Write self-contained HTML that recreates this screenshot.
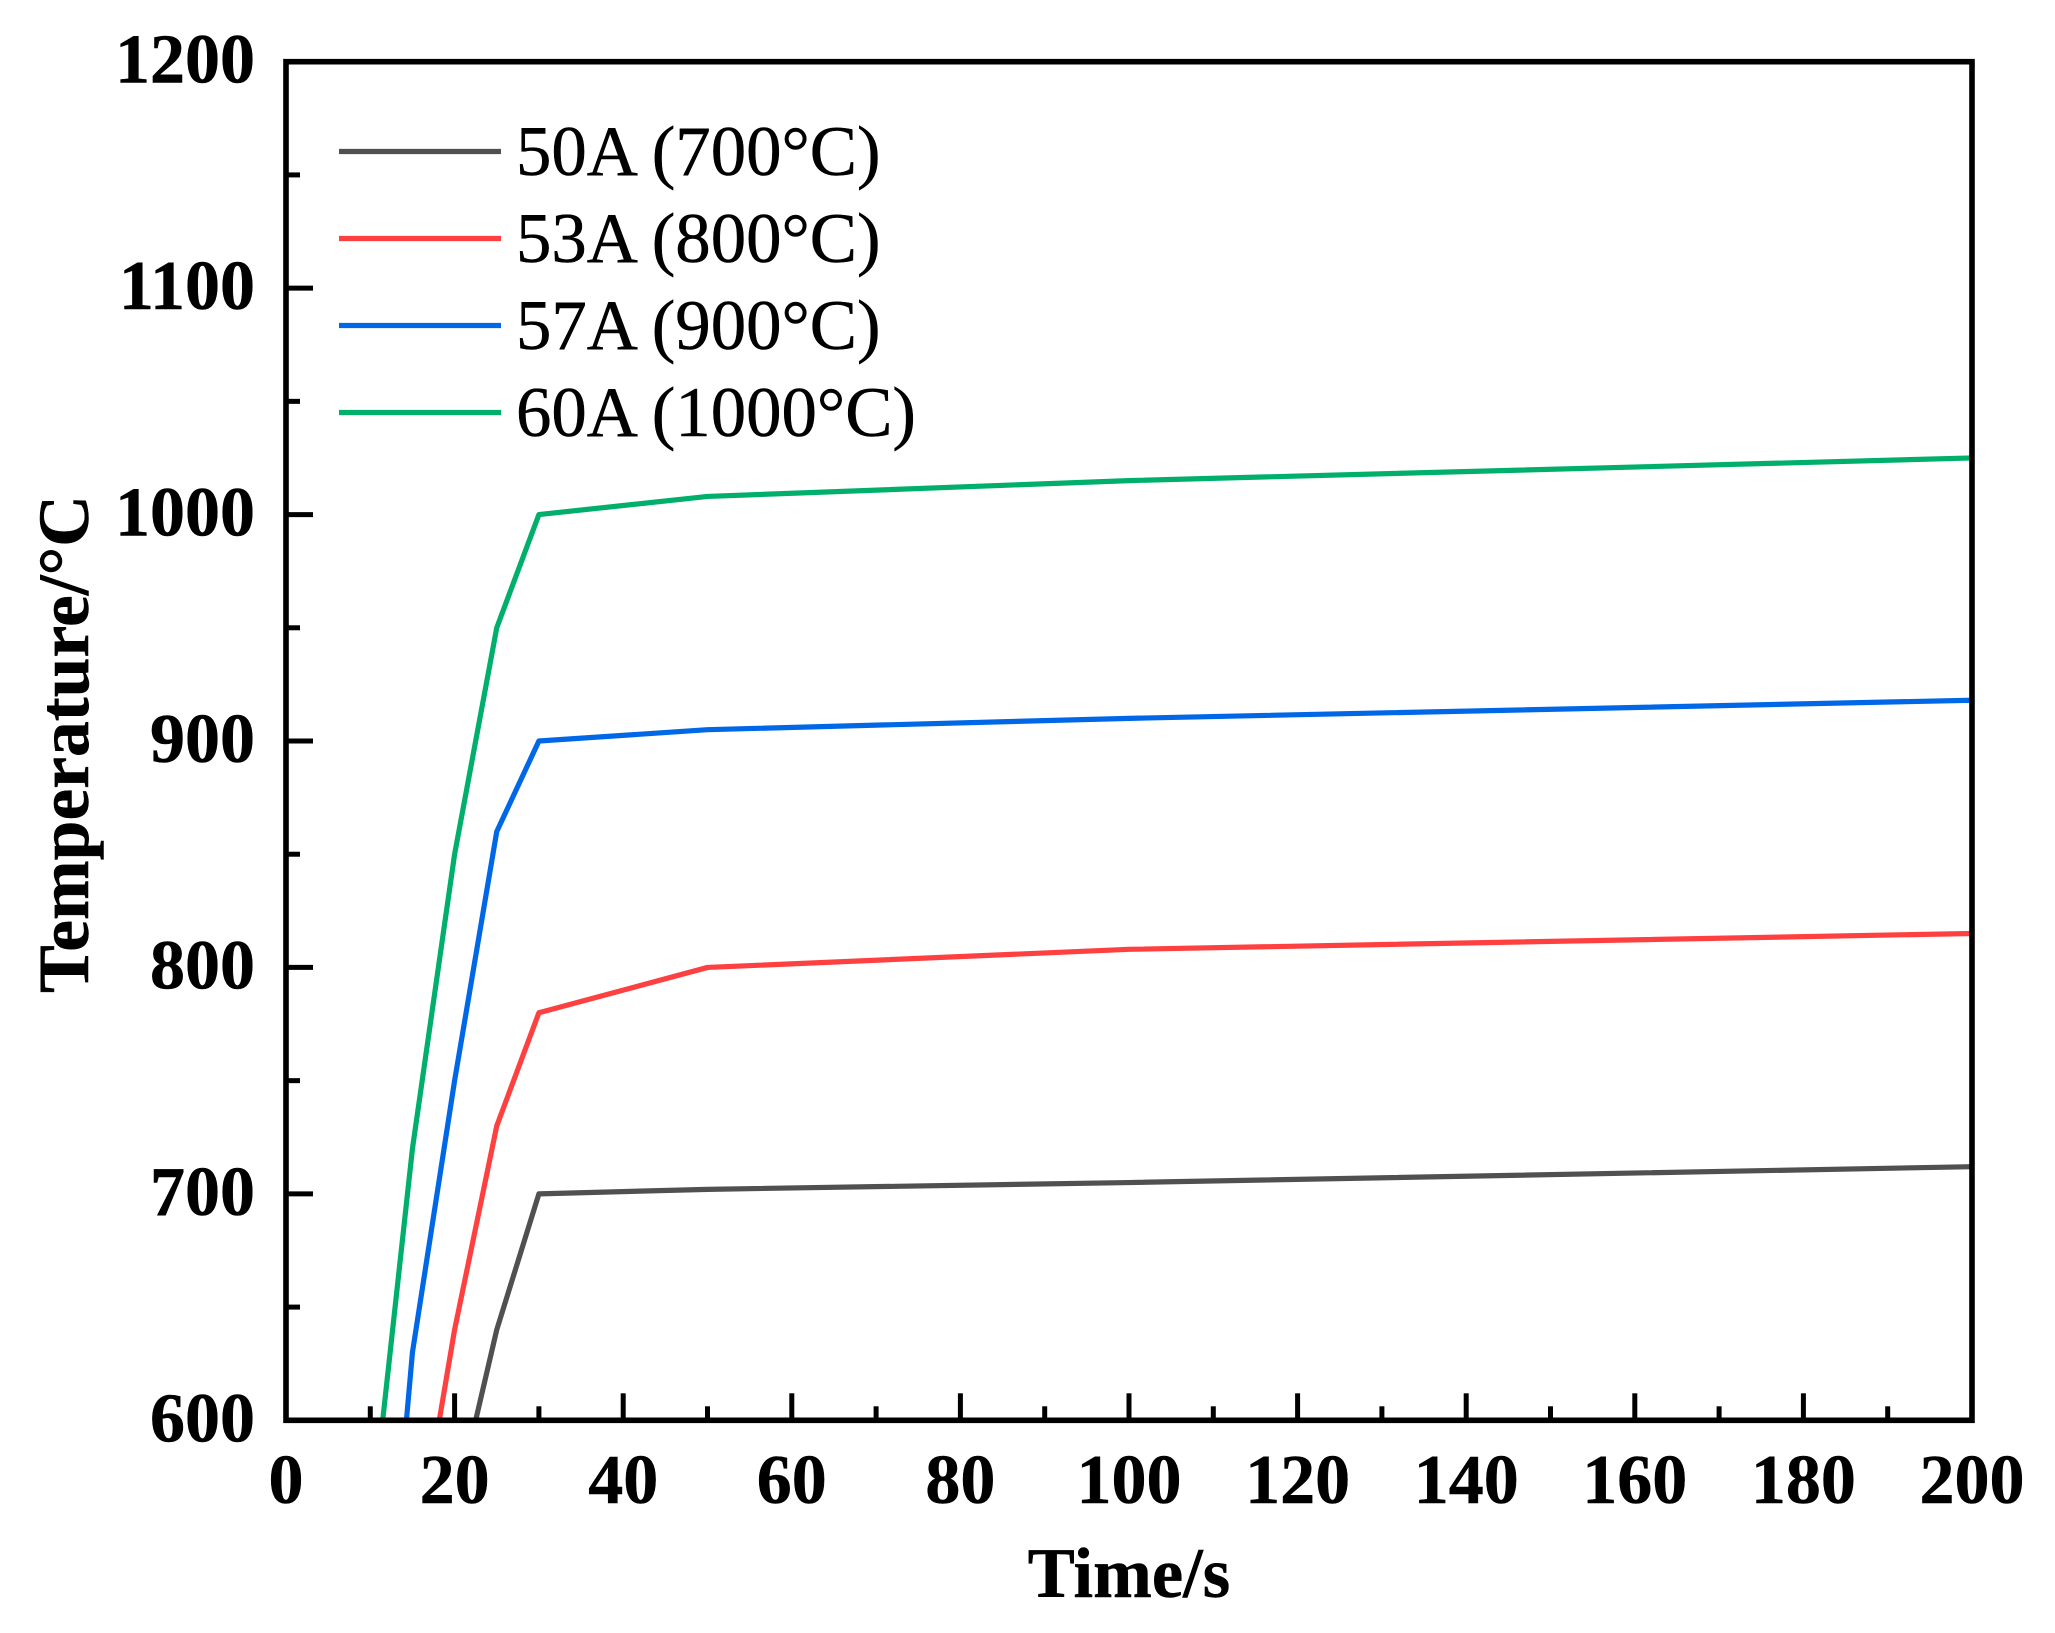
<!DOCTYPE html>
<html lang="en">
<head>
<meta charset="utf-8">
<title>Temperature vs Time</title>
<style>
html,body{margin:0;padding:0;background:#fff;width:2055px;height:1633px;overflow:hidden;}
#wrap{position:absolute;left:0;top:0;width:2055px;height:1633px;overflow:hidden;}
svg{display:block;overflow:hidden;}
text{font-family:"Liberation Serif",serif;fill:#000;stroke:#000;stroke-width:0.5px;}
</style>
</head>
<body>
<div id="wrap">
<svg id="chart" xmlns="http://www.w3.org/2000/svg" width="2055" height="1633" viewBox="0 0 2055 1633"></svg>
</div>
<script>
const xTicks = [0,20,40,60,80,100,120,140,160,180,200];
const xMinorTicks = [10,30,50,70,90,110,130,150,170,190];
const yTicks = [600,700,800,900,1000,1100,1200];
const yMinorTicks = [650,750,850,950,1050,1150];
const timeValues = [10,15,20,25,30,50,100,200];
const labels = ['50A (700°C)','53A (800°C)','57A (900°C)','60A (1000°C)'];
const colors = ['#505050','#ff4040','#0068e6','#00af6b'];
const temp50A = [480,530,560,640,700,702,705,712];
const temp53A = [430,530,640,730,780,800,808,815];
const temp57A = [420,630,750,860,900,905,910,918];
const temp60A = [550,720,850,950,1000,1008,1015,1025];
const seriesValues = [temp50A,temp53A,temp57A,temp60A];

const SVGNS = 'http://www.w3.org/2000/svg';
const svg = document.getElementById('chart');
const left = 286, right = 1972, top_ = 61.7, bottom = 1420.3;
const xMin = 0, xMax = 200, yMin = 600, yMax = 1200;
function xScale(v){ return left + (v - xMin) / (xMax - xMin) * (right - left); }
function yScale(v){ return bottom - (v - yMin) / (yMax - yMin) * (bottom - top_); }
function make(tag, attrs, parent){
  const el = document.createElementNS(SVGNS, tag);
  for (const k in attrs) el.setAttribute(k, attrs[k]);
  (parent || svg).appendChild(el);
  return el;
}

const defs = make('defs', {});
const clip = make('clipPath', {id:'plot-clip'}, defs);
make('rect', {x:left, y:top_, width:right-left, height:bottom-top_}, clip);

const seriesGroup = make('g', {'clip-path':'url(#plot-clip)'});


seriesValues.forEach(function(vals, i){
  const pts = vals.map(function(v, j){ return xScale(timeValues[j]).toFixed(2) + ',' + yScale(v).toFixed(2); }).join(' ');
  const line = make('polyline', {points:pts, fill:'none', stroke:colors[i], 'stroke-width':5.2, 'stroke-linejoin':'round'}, seriesGroup);
  
  
});

const frame = make('rect', {x:left, y:top_, width:right-left, height:bottom-top_, fill:'none', stroke:'#000', 'stroke-width':5.6});



const MAJOR = 27, MINOR = 14, TW = 5;
xTicks.forEach(function(v){
  const x = xScale(v);
  if (v !== xMin && v !== xMax) {
    const t = make('line', {x1:x, x2:x, y1:bottom, y2:bottom-MAJOR, stroke:'#000', 'stroke-width':TW});
    
    
  }
  const lab = make('text', {x:x, y:1503, 'text-anchor':'middle', 'font-size':70, 'font-weight':'bold'});
  lab.textContent = String(v);
  
  
});
xMinorTicks.forEach(function(v){
  const x = xScale(v);
  const t = make('line', {x1:x, x2:x, y1:bottom, y2:bottom-MINOR, stroke:'#000', 'stroke-width':TW});
  
  
});
yTicks.forEach(function(v){
  const y = yScale(v);
  if (v !== yMin && v !== yMax) {
    const t = make('line', {x1:left, x2:left+MAJOR, y1:y, y2:y, stroke:'#000', 'stroke-width':TW});
    
    
  }
  const lab = make('text', {x:255, y:y+21, 'text-anchor':'end', 'font-size':70, 'font-weight':'bold'});
  lab.textContent = String(v);
  
  
});
yMinorTicks.forEach(function(v){
  const y = yScale(v);
  const t = make('line', {x1:left, x2:left+MINOR, y1:y, y2:y, stroke:'#000', 'stroke-width':TW});
  
  
});

const xTitle = make('text', {x:1129, y:1597, 'text-anchor':'middle', 'font-size':70.5, 'font-weight':'bold'});
xTitle.textContent = 'Time/s';



const yTitle = make('text', {transform:'translate(88,744) rotate(-90)', 'text-anchor':'middle', 'font-size':71.6, 'font-weight':'bold'});
yTitle.textContent = 'Temperature/°C';



labels.forEach(function(name, i){
  const ly = 151.5 + i * 87;
  const entry = make('g', {});
  
  
  const sw = make('line', {x1:339, x2:501, y1:ly, y2:ly, stroke:colors[i], 'stroke-width':5.2}, entry);
  
  
  const tx = make('text', {x:516, y:ly+23.5, 'font-size':70.8}, entry);
  tx.textContent = name;
  
  
});
</script>
</body>
</html>
